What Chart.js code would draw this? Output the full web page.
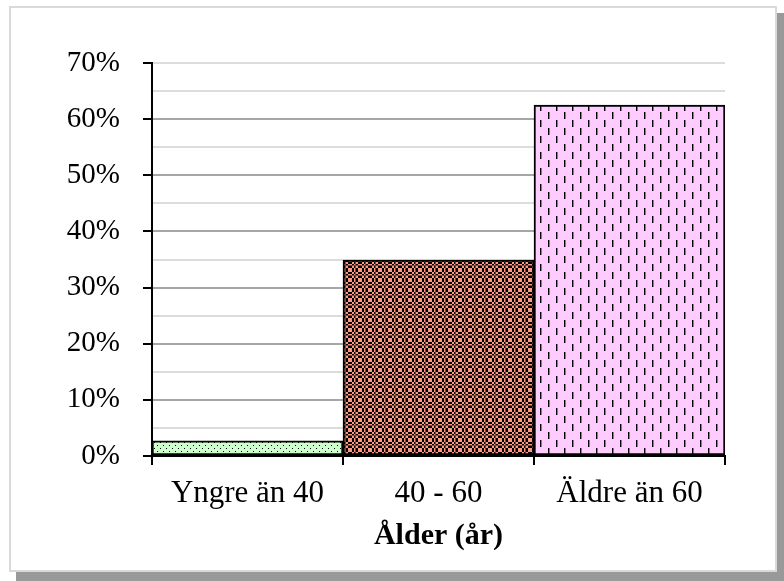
<!DOCTYPE html>
<html>
<head>
<meta charset="utf-8">
<script src="https://cdn.jsdelivr.net/npm/chart.js@4"></script>
<style>
  html, body { margin: 0; padding: 0; background: #fff; }
  #wrap { width: 784px; height: 581px; }
</style>
</head>
<body>
<div id="wrap"><canvas id="ageChart" width="784" height="581"></canvas></div>
<script>
const categories = ['Yngre än 40', '40 - 60', 'Äldre än 60'];
const shares = [2.7, 34.9, 62.5];   // percent
const yTicks = [0, 10, 20, 30, 40, 50, 60, 70];
const axisTitle = 'Ålder (år)';

const serif = "'Liberation Serif', 'Times New Roman', serif";

function makePattern(w, h, draw) {
    const c = document.createElement('canvas');
    c.width = w;
    c.height = h;
    const g = c.getContext('2d');
    draw(g);
    return g.createPattern(c, 'repeat');
}

// light green with small black dots
const greenDots = makePattern(6, 6, g => {
    g.fillStyle = '#ccffcc';
    g.fillRect(0, 0, 6, 6);
    g.fillStyle = '#000';
    g.fillRect(1, 1, 1, 1);
    g.fillRect(4, 4, 1, 1);
});

// black / salmon checker with brownish grid lines
const brownCheck = makePattern(10, 10, g => {
    for (let y = 0; y < 10; y += 2) {
        for (let x = 0; x < 10; x += 2) {
            g.fillStyle = ((x + y) / 2) % 2 ? '#000' : '#ff9980';
            g.fillRect(x, y, 2, 2);
        }
    }
    g.fillStyle = '#7a4a40';
    g.fillRect(5, 0, 1, 10);
    g.fillRect(0, 5, 10, 1);
});

// pink with short vertical black dashes
const pinkDash = makePattern(16, 16, g => {
    g.fillStyle = '#ffccff';
    g.fillRect(0, 0, 16, 16);
    g.fillStyle = '#000';
    g.fillRect(4, 0, 1, 7);
    g.fillRect(12, 8, 1, 7);
    g.fillStyle = '#808080';
    g.fillRect(5, 0, 1, 7);
    g.fillRect(13, 8, 1, 7);
});

const framePlugin = {
    id: 'frame',
    beforeDraw(chart) {
        const c = chart.ctx;
        c.save();
        c.fillStyle = '#fff';
        c.fillRect(0, 0, 784, 581);
        c.fillStyle = '#999';
        c.fillRect(16, 13, 768, 568);
        c.fillStyle = '#fff';
        c.fillRect(9, 6, 768, 566);
        c.strokeStyle = '#d9d9d9';
        c.lineWidth = 2;
        c.strokeRect(10, 7, 766, 564);
        c.restore();
    }
};

const ctx = document.getElementById('ageChart').getContext('2d');
new Chart(ctx, {
    type: 'bar',
    data: {
        labels: categories,
        datasets: [{
            data: shares,
            backgroundColor: [greenDots, brownCheck, pinkDash],
            borderColor: '#000',
            borderWidth: 2,
            borderSkipped: false,
            barPercentage: 1,
            categoryPercentage: 1
        }]
    },
    options: {
        responsive: false,
        animation: false,
        events: [],
        layout: { padding: { left: 0, top: 63, right: 59, bottom: 27 } },
        plugins: {
            legend: { display: false },
            tooltip: { enabled: false }
        },
        scales: {
            y: {
                min: 0,
                max: 70,
                afterBuildTicks: s => {
                    const t = [];
                    for (let v = 0; v <= 70; v += 5) t.push({ value: v });
                    s.ticks = t;
                },
                afterFit: s => { s.width = 152; },
                border: { color: '#000', width: 2 },
                grid: {
                    color: c => (c.tick.value % 10 === 0 && c.tick.value !== 70) ? '#a6a6a6' : '#dcdcdc',
                    lineWidth: 2,
                    tickLength: 9,
                    tickColor: c => yTicks.includes(c.tick.value) ? '#000' : 'rgba(0,0,0,0)',
                    tickWidth: 2
                },
                ticks: {
                    autoSkip: false,
                    color: '#000',
                    font: { family: serif, size: 29 },
                    padding: 23,
                    callback: v => yTicks.includes(v) ? v + '%' : ''
                }
            },
            x: {
                afterFit: s => { s.height = 98; },
                border: { color: '#000', width: 2 },
                grid: {
                    offset: true,
                    drawOnChartArea: false,
                    tickLength: 9,
                    color: '#000',
                    lineWidth: 2
                },
                ticks: {
                    color: '#000',
                    font: { family: serif, size: 31 },
                    padding: 10
                },
                title: {
                    display: true,
                    text: axisTitle,
                    color: '#000',
                    font: { family: serif, size: 30, weight: 'bold' },
                    padding: { top: 2, bottom: 0 }
                }
            }
        }
    },
    plugins: [framePlugin]
});
</script>
</body>
</html>
